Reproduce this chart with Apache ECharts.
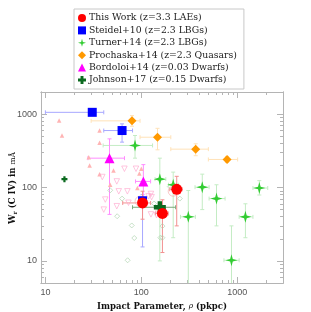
<!DOCTYPE html>
<html><head><meta charset="utf-8">
<script src="https://cdn.jsdelivr.net/npm/echarts@6/dist/echarts.min.js"></script>
<style>html,body{margin:0;padding:0;background:#fff}#c{width:311px;height:312px}</style>
</head><body><div id="c"></div>
<script>
// ---- data (x = impact parameter pkpc, y = W_r mA) ----
const thisWork = [[103, 61.6], [166, 44.3], [234, 94.6]];
const thisWorkErr = [[103, 61.6, 64, 125, 37, 89], [166, 44.3, 141, 191, 13, 68], [234, 94.6, 198, 267, 30, 142]];
const steidel = [[30.8, 1057], [63, 597], [103, 66]];
const steidelErr = [[30.8, 1057, 10, 40.6, null, null], [63, 597, 40.6, 81, 415, 736], [103, 66, 96, 110, 15.5, 80]];
const turner = [[86, 374], [156, 130], [215, 109], [432, 101], [608, 70.6], [309, 39.8], [871, 10.2], [1217, 39.8], [1700, 98.4]];
const turnerErr = [[86, 374, 40, 131, 251, 511], [156, 130, 139, 180, 10, 251], [215, 109, 192, 243, 20.7, 162],
  [432, 101, 363, 509, 50, 152], [608, 70.6, 509, 747, 30, 109], [309, 39.8, 256, 366, 4, 91],
  [871, 10.2, 727, 1047, 4, 30], [1217, 39.8, 1047, 1458, 20.7, 60], [1700, 98.4, 1458, 2080, 79, 124]];
const prochaska = [[80, 809], [147.5, 484], [369, 333], [783, 241]];
const prochaskaErr = [[80, 809, 30, 97, 683, 955], [147.5, 484, 97, 203, 326, 640], [369, 333, 203, 500, 271, 394], [783, 241, 500, 1010, 220, 265]];
const bordoloi = [[46.6, 251], [105, 121]];
const bordoloiErr = [[46.6, 251, 27.8, 66.8, 43, 460], [105, 121, 87, 125, 65, 205]];
const johnson = [[156, 53.8]];
const johnsonErr = [[156, 53.8, 81, 228, null, null]];
const johnsonSmall = [[15.8, 130]];
// faint background points
const bordoloiDet = [[13.9, 816], [14.9, 511], [36.7, 597], [36.7, 406], [28.3, 259], [28.9, 200], [36.7, 152], [51.3, 171], [47.4, 109], [95.5, 155], [100, 180], [91, 98.5]];
const bordoloiLim = [[39.2, 139], [55.5, 121], [66.7, 180], [88, 180], [58.2, 88.7], [42.1, 68.5], [40.6, 50], [55.5, 55.6], [71.6, 88.7], [119, 75.8], [144, 42], [73.5, 62], [126, 81.7], [128, 74], [126, 43]];
const johnsonInd = [[47.4, 91.6], [63, 70.6], [56, 40.6], [79.5, 30.4], [84.5, 20.5], [72, 10.2], [136, 60.5], [198, 103], [252, 70.6], [166, 29.8], [166, 20.7], [158, 20.7]];
const thisWorkAlt = [[215, 89], [97, 65], [160, 48]];
// axis ranges and ticks
const xRange = [9, 3000];
const yRange = [5, 2000];
const xMajor = [10, 100, 1000];
const xMinor = [20, 30, 40, 50, 60, 70, 80, 90, 200, 300, 400, 500, 600, 700, 800, 900, 2000, 3000];
const yMajor = [10, 100, 1000];
const yMinor = [5, 6, 7, 8, 9, 20, 30, 40, 50, 60, 70, 80, 90, 200, 300, 400, 500, 600, 700, 800, 900, 2000];
const legendNames = ['This Work (z=3.3 LAEs)', 'Steidel+10 (z=2.3 LBGs)', 'Turner+14 (z=2.3 LBGs)', 'Prochaska+14 (z=2.3 Quasars)', 'Bordoloi+14 (z=0.03 Dwarfs)', 'Johnson+17 (z=0.15 Dwarfs)'];

// log10 transform for plotting on logarithmic value axes
const L = v => (v === null ? '-' : Math.log10(v));
const pts = arr => arr.map(d => d.map(L));

const STAR = 'path://M0,-10 L2.2,-2.2 L10,0 L2.2,2.2 L0,10 L-2.2,2.2 L-10,0 L-2.2,-2.2 Z';
const PLUS = 'path://M-2.2,-6 L2.2,-6 L2.2,-2.2 L6,-2.2 L6,2.2 L2.2,2.2 L2.2,6 L-2.2,6 L-2.2,2.2 L-6,2.2 L-6,-2.2 L-2.2,-2.2 Z';
const DOWN = 'path://M-5,-4 L5,-4 L0,5 Z';
const AX = '#b4b4b4';
const SERIF = 'DejaVu Serif';
const RICH = {
  b: { fontFamily: SERIF, fontWeight: 'bold', fontSize: 8.5, fill: '#111', color: '#111' },
  i: { fontFamily: SERIF, fontStyle: 'italic', fontSize: 7.5, fill: '#111', color: '#111' },
  s: { fontFamily: SERIF, fontWeight: 'bold', fontSize: 6, fill: '#111', color: '#111', verticalAlign: 'bottom', padding: [4, 0, 0, 0] },
  u: { fontFamily: SERIF, fontSize: 7.5, fill: '#111', color: '#111' }
};

function ok(v) { return v !== null && v !== undefined && isFinite(v); }
function errSeries(data, color, w) {
  return {
    type: 'custom', silent: true, clip: true, xAxisIndex: 0, yAxisIndex: 0,
    data: pts(data),
    encode: { x: 0, y: 1 },
    renderItem: function (params, api) {
      const x = api.value(0), y = api.value(1);
      const xlo = api.value(2), xhi = api.value(3), ylo = api.value(4), yhi = api.value(5);
      const st = { stroke: color, lineWidth: w || 1 };
      const ch = [];
      const cap = 2;
      if (ok(xlo) && ok(xhi)) {
        const a = api.coord([xlo, y]), b = api.coord([xhi, y]);
        ch.push({ type: 'line', shape: { x1: a[0], y1: a[1], x2: b[0], y2: b[1] }, style: st });
        ch.push({ type: 'line', shape: { x1: a[0], y1: a[1] - cap, x2: a[0], y2: a[1] + cap }, style: st });
        ch.push({ type: 'line', shape: { x1: b[0], y1: b[1] - cap, x2: b[0], y2: b[1] + cap }, style: st });
      }
      if (ok(ylo) && ok(yhi)) {
        const a = api.coord([x, ylo]), b = api.coord([x, yhi]);
        ch.push({ type: 'line', shape: { x1: a[0], y1: a[1], x2: b[0], y2: b[1] }, style: st });
        ch.push({ type: 'line', shape: { x1: a[0] - cap, y1: a[1], x2: a[0] + cap, y2: a[1] }, style: st });
        ch.push({ type: 'line', shape: { x1: b[0] - cap, y1: b[1], x2: b[0] + cap, y2: b[1] }, style: st });
      }
      return { type: 'group', children: ch };
    }
  };
}
function scat(name, data, symbol, size, color, extra) {
  return Object.assign({ name: name, type: 'scatter', data: pts(data), symbol: symbol, symbolSize: size,
    itemStyle: { color: color, opacity: 1 }, emphasis: { disabled: true }, xAxisIndex: 0, yAxisIndex: 0 }, extra || {});
}
const fmt = v => String(Math.round(Math.pow(10, v)));
function axisCfg(isX, pos, vals, len, label, name) {
  const r = isX ? xRange : yRange;
  return {
    type: 'value', min: Math.log10(r[0]), max: Math.log10(r[1]), position: pos, scale: true,
    axisLine: { show: true, onZero: false, lineStyle: { color: AX } },
    axisTick: { show: true, inside: true, length: len, customValues: vals.map(L), lineStyle: { color: AX } },
    axisLabel: { show: !!label, customValues: vals.map(L), formatter: fmt, color: '#555', fontFamily: 'Liberation Sans', fontSize: 9, margin: isX ? 5 : 4 },
    splitLine: { show: false }, minorTick: { show: false },
    name: name || '', nameLocation: 'middle', nameGap: 15,
    nameTextStyle: { rich: RICH }
  };
}

const chart = echarts.init(document.getElementById('c'), null, { renderer: 'canvas' });
chart.setOption({
  animation: false,
  backgroundColor: '#fff',
  grid: { left: 41, right: 28, top: 92, bottom: 29, containLabel: false, outerBoundsMode: 'none' },
  legend: {
    data: [
      { name: legendNames[0], icon: 'circle' },
      { name: legendNames[1], icon: 'rect' },
      { name: legendNames[2], icon: STAR },
      { name: legendNames[3], icon: 'diamond' },
      { name: legendNames[4], icon: 'triangle' },
      { name: legendNames[5], icon: PLUS }
    ],
    orient: 'vertical', left: 74, top: 9, padding: [3, 7, 3, 4],
    itemWidth: 8, itemHeight: 8, itemGap: 0.4,
    borderColor: '#c8c8c8', borderWidth: 1, selectedMode: false,
    textStyle: { fontFamily: SERIF, fontSize: 9.3, color: '#222', lineHeight: 12, padding: [0, 0, 0, -2] }
  },
  graphic: [{
    type: 'text', x: 13, y: 188, rotation: Math.PI / 2, silent: true,
    style: { text: '{b|W}{s|r}{b| (C IV) in }{u|mÅ}', rich: RICH, align: 'center', verticalAlign: 'middle' }
  }],
  xAxis: [
    axisCfg(true, 'bottom', xMajor, 6, true, '{b|Impact Parameter, }{i|ρ}{b| (pkpc)}'),
    axisCfg(true, 'bottom', xMinor, 3, false),
    axisCfg(true, 'top', xMajor, 6, false),
    axisCfg(true, 'top', xMinor, 3, false)
  ],
  yAxis: [
    axisCfg(false, 'left', yMajor, 6, true),
    axisCfg(false, 'left', yMinor, 3, false),
    axisCfg(false, 'right', yMajor, 6, false),
    axisCfg(false, 'right', yMinor, 3, false)
  ],
  series: [
    scat('bgDet', bordoloiDet, 'triangle', 4.5, '#ffb4b4'),
    scat('bgLim', bordoloiLim, DOWN, 5.5, 'rgba(0,0,0,0)', { itemStyle: { color: 'rgba(0,0,0,0)', borderColor: '#ffa6cc', borderWidth: 0.8 } }),
    scat('bgJ', johnsonInd, 'diamond', 5, 'rgba(0,0,0,0)', { itemStyle: { color: 'rgba(0,0,0,0)', borderColor: '#a8d0a8', borderWidth: 0.8 } }),
    scat('bgTW', thisWorkAlt, 'circle', 10, 'rgba(0,0,0,0)', { itemStyle: { color: 'rgba(0,0,0,0)', borderColor: '#f4a8a8', borderWidth: 0.8 } }),
    errSeries(turnerErr, '#c4ecc4', 1),
    errSeries(prochaskaErr, '#ffe2b8', 1),
    errSeries(steidelErr, '#a8a8ff', 1),
    errSeries(bordoloiErr, '#ff8cff', 1),
    errSeries(johnsonErr, '#7aa87a', 1),
    errSeries(thisWorkErr, '#f29090', 1),
    scat(legendNames[1], steidel, 'rect', 9, '#0000ff'),
    scat(legendNames[2], turner, STAR, 12, '#33cc33'),
    scat(legendNames[3], prochaska, 'diamond', 9, '#ff9900'),
    scat(legendNames[4], bordoloi, 'triangle', 10, '#ff00ff'),
    scat(legendNames[5], johnson, PLUS, 12, '#0b6a1f'),
    scat('johnsonSmall', johnsonSmall, PLUS, 6, '#0b6a1f'),
    scat(legendNames[0], thisWork, 'circle', 11, '#ff0000')
  ]
});
</script></body></html>
